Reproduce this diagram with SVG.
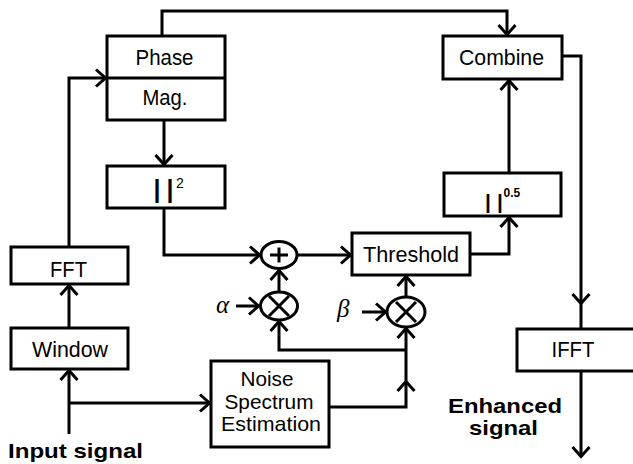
<svg xmlns="http://www.w3.org/2000/svg" width="633" height="464" viewBox="0 0 633 464">
<style>
.box{fill:#fff;stroke:#000;stroke-width:3}
.ln{fill:none;stroke:#000;stroke-width:3}
.c{fill:none;stroke:#000;stroke-width:3}
.t{font-family:"Liberation Sans",Arial,sans-serif;font-size:22px;text-anchor:middle;fill:#000}
.n{font-size:21px}
.b{font-family:"Liberation Sans",Arial,sans-serif;font-size:21px;font-weight:bold;fill:#000}
.bar{font-family:"Liberation Sans",Arial,sans-serif;font-weight:bold;fill:#000}
.sup{font-family:"Liberation Sans",Arial,sans-serif;fill:#000}
.g{font-family:"Liberation Serif","Times New Roman",serif;font-style:italic;font-size:25px;fill:#000}
</style>
<defs>
<marker id="ah" viewBox="0 0 14 20" markerWidth="14" markerHeight="20" refX="11" refY="9" orient="auto" markerUnits="userSpaceOnUse" overflow="visible">
<path d="M1,0.5 L10.5,9 L1,17.5" fill="none" stroke="#000" stroke-width="3"/>
</marker>
</defs>
<rect width="633" height="464" fill="#fff"/>
<g id="connectors">
<path class="ln" d="M69,434 V370" marker-end="url(#ah)"/>
<path class="ln" d="M69,403 H210" marker-end="url(#ah)"/>
<path class="ln" d="M69,328 V285" marker-end="url(#ah)"/>
<path class="ln" d="M69,247 V78 H106" marker-end="url(#ah)"/>
<path class="ln" d="M162,36 V11 H507 V35" marker-end="url(#ah)"/>
<path class="ln" d="M164,120 V165" marker-end="url(#ah)"/>
<path class="ln" d="M164,208 V255 H260" marker-end="url(#ah)"/>
<path class="ln" d="M297,255 H351" marker-end="url(#ah)"/>
<path class="ln" d="M236,306 H259" marker-end="url(#ah)"/>
<path class="ln" d="M279,292 V270" marker-end="url(#ah)"/>
<path class="ln" d="M406,350 H279 V321" marker-end="url(#ah)"/>
<path class="ln" d="M329,407 H406 V381" marker-end="url(#ah)"/>
<path class="ln" d="M406,383 V328" marker-end="url(#ah)"/>
<path class="ln" d="M362,312 H386" marker-end="url(#ah)"/>
<path class="ln" d="M406,297 V276" marker-end="url(#ah)"/>
<path class="ln" d="M470,254 H509 V217" marker-end="url(#ah)"/>
<path class="ln" d="M509,173 V80" marker-end="url(#ah)"/>
<path class="ln" d="M562,56 H581 V304" marker-end="url(#ah)"/>
<path class="ln" d="M581,302 V329"/>
<path class="ln" d="M581,371 V457" marker-end="url(#ah)"/>
</g>
<g id="phase-mag">
<rect class="box" x="107" y="36" width="118" height="84"/>
<line class="ln" x1="107" y1="78" x2="225" y2="78"/>
<text class="t" x="164.5" y="65" textLength="58" lengthAdjust="spacingAndGlyphs">Phase</text>
<text class="t" x="165" y="105" textLength="45" lengthAdjust="spacingAndGlyphs">Mag.</text>
</g>
<g id="square">
<rect class="box" x="107" y="166" width="118" height="42"/>
<text class="bar" x="153.5" y="197.5" font-size="25">|<tspan dx="6">|</tspan></text>
<text class="sup" x="176" y="188" font-size="14">2</text>
</g>
<g id="fft">
<rect class="box" x="11" y="247" width="117" height="37"/>
<text class="t" x="68.5" y="277" textLength="37" lengthAdjust="spacingAndGlyphs">FFT</text>
</g>
<g id="window">
<rect class="box" x="11" y="328" width="117" height="41"/>
<text class="t" x="70" y="357" textLength="76" lengthAdjust="spacingAndGlyphs">Window</text>
</g>
<g id="noise">
<rect class="box" x="211" y="361" width="118" height="86"/>
<text class="t n" x="267" y="386" textLength="53" lengthAdjust="spacingAndGlyphs">Noise</text>
<text class="t n" x="269" y="408.5" textLength="89" lengthAdjust="spacingAndGlyphs">Spectrum</text>
<text class="t n" x="271" y="431" textLength="100" lengthAdjust="spacingAndGlyphs">Estimation</text>
</g>
<g id="combine">
<rect class="box" x="443" y="36" width="119" height="43"/>
<text class="t" x="501.5" y="65" textLength="85" lengthAdjust="spacingAndGlyphs">Combine</text>
</g>
<g id="sqrt">
<rect class="box" x="444" y="173" width="117" height="43"/>
<text class="bar" x="485" y="208.5" font-size="21">|<tspan dx="6">|</tspan></text>
<text class="sup" x="503.5" y="197" font-size="12" font-weight="bold">0.5</text>
</g>
<g id="threshold">
<rect class="box" x="352" y="233" width="118" height="42"/>
<text class="t" x="411" y="262" textLength="96" lengthAdjust="spacingAndGlyphs">Threshold</text>
</g>
<g id="ifft">
<rect class="box" x="517" y="329" width="130" height="42"/>
<text class="t" x="573" y="357" textLength="43" lengthAdjust="spacingAndGlyphs">IFFT</text>
</g>
<g id="sum">
<ellipse class="c" cx="279" cy="255" rx="18" ry="13.5"/>
<path class="ln" d="M270,255 H288 M279,247.5 V262.5"/>
</g>
<g id="mult-alpha">
<ellipse class="c" cx="279" cy="306" rx="18.5" ry="14"/>
<path class="ln" d="M269,296 L289,316 M289,296 L269,316"/>
</g>
<g id="mult-beta">
<ellipse class="c" cx="406" cy="312" rx="19" ry="15"/>
<path class="ln" d="M396,302 L416,322 M416,302 L396,322"/>
</g>
<g id="labels">
<text class="g" x="216" y="313">α</text>
<text class="g" x="337" y="317">β</text>
<text class="b" x="8" y="458" textLength="135" lengthAdjust="spacingAndGlyphs">Input signal</text>
<text class="b" x="505" y="413" text-anchor="middle" textLength="114" lengthAdjust="spacingAndGlyphs">Enhanced</text>
<text class="b" x="503.5" y="435" text-anchor="middle" textLength="69" lengthAdjust="spacingAndGlyphs">signal</text>
</g>
</svg>
